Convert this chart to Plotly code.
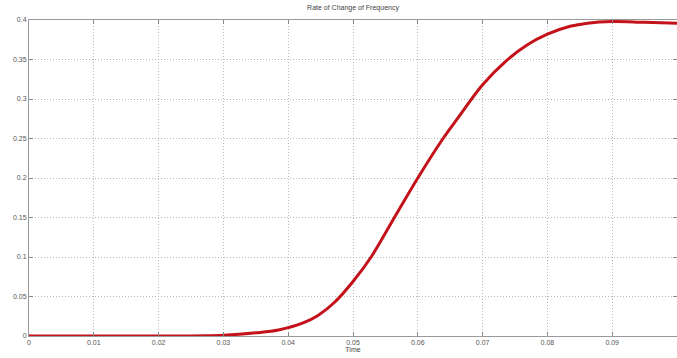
import plotly.graph_objects as go

time = [0, 0.01, 0.02, 0.03, 0.035, 0.0385, 0.0423, 0.0446, 0.0472, 0.05, 0.0528,
        0.0559, 0.06, 0.0639, 0.0662, 0.07, 0.0736, 0.0768, 0.08, 0.0835, 0.0862,
        0.09, 0.095, 0.1]
rocof = [0, 0, 0, 0.001, 0.004, 0.0076, 0.0165, 0.026, 0.043, 0.069, 0.100,
         0.143, 0.200, 0.250, 0.276, 0.318, 0.348, 0.368, 0.382, 0.392, 0.396,
         0.398, 0.397, 0.396]

x_ticks = [0, 0.01, 0.02, 0.03, 0.04, 0.05, 0.06, 0.07, 0.08, 0.09, 0.1]
x_labels = ["0", "0.01", "0.02", "0.03", "0.04", "0.05", "0.06", "0.07", "0.08", "0.09", "0.1"]
y_ticks = [0, 0.05, 0.1, 0.15, 0.2, 0.25, 0.3, 0.35, 0.4]
y_labels = ["0", "0.05", "0.1", "0.15", "0.2", "0.25", "0.3", "0.35", "0.4"]

fig = go.Figure()
fig.add_trace(go.Scatter(
    x=time, y=rocof, mode="lines",
    line=dict(color="#c4121b", width=3, shape="spline", smoothing=1.0),
    hoverinfo="skip", showlegend=False,
))

font = dict(family="Liberation Sans, Arial, sans-serif", size=7, color="#555555")
grid_dash = "1px,2px"

fig.update_layout(
    width=677, height=358,
    margin=dict(l=29, r=0, t=20, b=22),
    paper_bgcolor="white", plot_bgcolor="white",
    font=font,
    title=dict(text="Rate of Change of Frequency", x=0.5, xref="paper", xanchor="center",
               y=0.985, yanchor="top", font=dict(size=7, color="#444444")),
    xaxis=dict(
        range=[0, 0.1], tickvals=x_ticks, ticktext=x_labels,
        showgrid=True, gridcolor="#b8b8b8", griddash=grid_dash, gridwidth=1,
        showline=True, linecolor="#999999", linewidth=1, mirror="ticks",
        ticks="inside", ticklen=4, tickcolor="#888888",
        zeroline=False, tickfont=font,
        title=dict(text="Time", standoff=0, font=dict(size=7, color="#444444")),
    ),
    yaxis=dict(
        range=[0, 0.4], tickvals=y_ticks, ticktext=y_labels,
        showgrid=True, gridcolor="#b8b8b8", griddash=grid_dash, gridwidth=1,
        showline=True, linecolor="#999999", linewidth=1, mirror="ticks",
        ticks="inside", ticklen=4, tickcolor="#888888",
        zeroline=False, tickfont=font,
    ),
)

fig.write_html("out.html", config={"displayModeBar": False},
               post_script="document.body.style.margin='0';")
